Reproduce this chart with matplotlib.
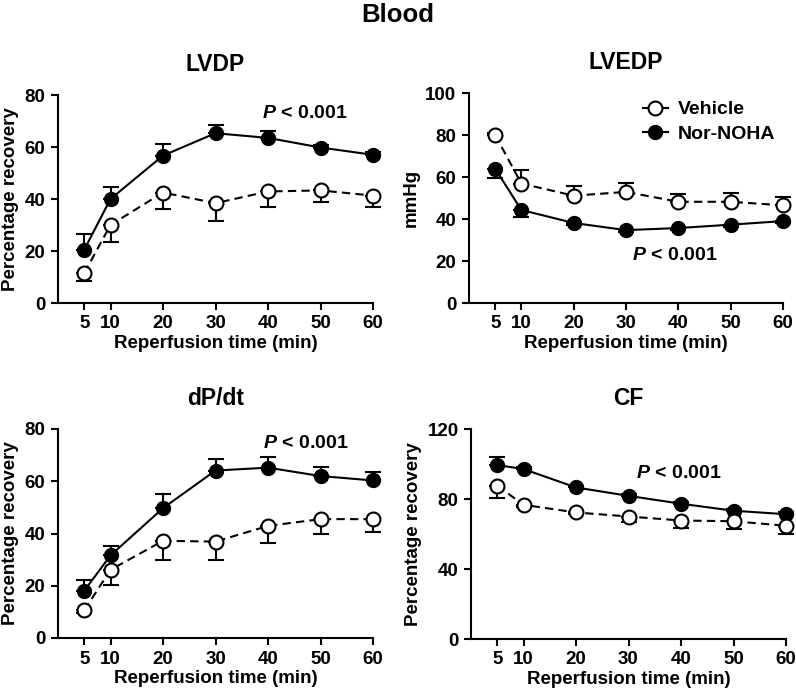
import numpy as np
import matplotlib
matplotlib.use("Agg")
import matplotlib.pyplot as plt
from matplotlib.lines import Line2D

plt.rcParams['font.family'] = ['Liberation Sans', 'DejaVu Sans']
plt.rcParams['font.weight'] = 'bold'
plt.rcParams['mathtext.fontset'] = 'custom'
plt.rcParams['mathtext.it'] = 'Liberation Sans:italic:bold'
plt.rcParams['mathtext.rm'] = 'Liberation Sans:bold'

time = [5, 10, 20, 30, 40, 50, 60]

# LVDP (% recovery)
lvdp_veh = [11.5, 30, 42.5, 38.4, 42.9, 43.3, 41.3]
lvdp_veh_err = [3.2, 6.6, 6.3, 6.7, 5.8, 4.5, 4.2]
lvdp_nor = [20.5, 40, 56.7, 65.3, 63.5, 59.8, 57]
lvdp_nor_err = [6, 4.8, 4.5, 3, 2.7, 1, 1]

# LVEDP (mmHg)
lvedp_veh = [80, 56.9, 51.1, 52.9, 48.2, 48.2, 46.5]
lvedp_veh_err = [1, 6.2, 4.6, 4.4, 3.6, 4, 3.8]
lvedp_nor = [64, 44.3, 38.1, 34.7, 35.7, 37.3, 39]
lvedp_nor_err = [4.3, 3.2, 1, 1, 1, 1, 1]

# dP/dt (% recovery)
dpdt_veh = [10.6, 26.1, 37.2, 36.9, 42.9, 45.5, 45.5]
dpdt_veh_err = [1, 5.7, 7.3, 7.2, 6.6, 5.6, 5]
dpdt_nor = [18.1, 31.6, 49.7, 64.1, 65.2, 62, 60.3]
dpdt_nor_err = [4.2, 3.8, 5.3, 4.3, 4, 3.4, 3.4]

# CF (% recovery)
cf_veh = [87.6, 76.7, 72.3, 70, 67.7, 67.3, 64.7]
cf_veh_err = [7.1, 1, 1, 2.9, 4, 4.5, 4.8]
cf_nor = [99.4, 97.1, 86.6, 81.8, 77.3, 73.3, 71.3]
cf_nor_err = [4.4, 1, 1, 1, 1, 1, 1]

fig = plt.figure(figsize=(7.96, 6.99), dpi=100)
W, H = 796.0, 699.0

def make_ax(l, r, t, b):
    return fig.add_axes([l / W, 1 - b / H, (r - l) / W, (b - t) / H])

panels = [
    # (box, title, ylabel, ymax, yticks, veh, veh_err, nor, nor_err, veh_up, p_pos)
    ((58, 373, 95, 303), 'LVDP', 'Percentage recovery', 80, [0, 20, 40, 60, 80],
     lvdp_veh, lvdp_veh_err, lvdp_nor, lvdp_nor_err, False, (38.8, 73)),
    ((469, 783, 93, 303), 'LVEDP', 'mmHg', 100, [0, 20, 40, 60, 80, 100],
     lvedp_veh, lvedp_veh_err, lvedp_nor, lvedp_nor_err, True, (31.2, 22.8)),
    ((58, 373, 429, 638), 'dP/dt', 'Percentage recovery', 80, [0, 20, 40, 60, 80],
     dpdt_veh, dpdt_veh_err, dpdt_nor, dpdt_nor_err, False, (39, 74.5)),
    ((471, 786, 429, 639), 'CF', 'Percentage recovery', 120, [0, 40, 80, 120],
     cf_veh, cf_veh_err, cf_nor, cf_nor_err, False, (31.5, 94.8)),
]

LW = 1.5
MS = 10
zeros = [0] * len(time)
for i, (box, title, ylab, ymax, yt, veh, veh_e, nor, nor_e, veh_up, ppos) in enumerate(panels):
    ax = make_ax(*box)
    if veh_up:
        veh_yerr = [zeros, veh_e]
        nor_yerr = [nor_e, zeros]
    else:
        veh_yerr = [veh_e, zeros]
        nor_yerr = [zeros, nor_e]
    ax.errorbar(time, nor, yerr=nor_yerr, color='black', lw=LW, ls='-',
                marker='o', ms=MS, mfc='black', mec='black', capsize=6,
                elinewidth=LW, capthick=LW, clip_on=False, zorder=3)
    ax.errorbar(time, veh, yerr=veh_yerr, color='black', lw=LW, ls=(0, (4, 2.5)),
                marker='o', ms=MS, mfc='white', mec='black', mew=LW, capsize=6,
                elinewidth=LW, capthick=LW, clip_on=False, zorder=4)
    ax.set_xlim(0, 60)
    ax.set_ylim(0, ymax)
    ax.set_xticks(time)
    ax.set_yticks(yt)
    ax.spines['top'].set_visible(False)
    ax.spines['right'].set_visible(False)
    for s in ('left', 'bottom'):
        ax.spines[s].set_linewidth(LW)
    ax.tick_params(direction='out', length=5, width=LW, labelsize=13.5, pad=4)
    ax.set_xlabel('Reperfusion time (min)', fontsize=13.5, fontweight='bold', labelpad=2)
    ax.set_ylabel(ylab, fontsize=13.5, fontweight='bold', labelpad=4)
    ax.set_title(title, fontsize=16.5, fontweight='bold', pad=17)
    ax.text(ppos[0], ppos[1], r'$P$ < 0.001', fontsize=14, fontweight='bold',
            ha='left', va='center')
    if i == 1:
        h = [Line2D([], [], color='black', lw=LW, marker='o', ms=MS, mfc='white', mew=LW),
             Line2D([], [], color='black', lw=LW, marker='o', ms=MS, mfc='black')]
        ax.legend(h, ['Vehicle', 'Nor-NOHA'], loc='upper right', frameon=False, fontsize=14,
                  handlelength=1.3, handletextpad=0.5, borderaxespad=0.0,
                  labelspacing=0.35, bbox_to_anchor=(1.0, 1.0))

fig.text(0.5, 1 - 15 / H, 'Blood', ha='center', va='center', fontsize=18.5, fontweight='bold')

fig.savefig('out.png', dpi=100)
